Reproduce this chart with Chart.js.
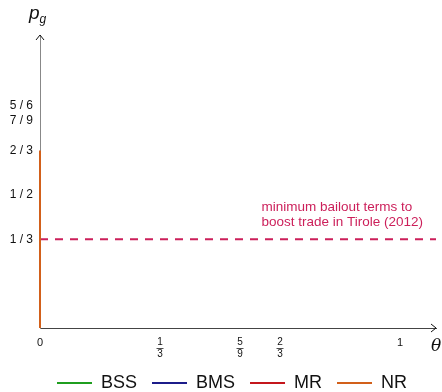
<!DOCTYPE html>
<html><head><meta charset="utf-8">
<script src="https://cdn.jsdelivr.net/npm/chart.js@4/dist/chart.umd.min.js"></script>
<style>html,body{margin:0;padding:0;background:#fff}#wrap{width:442px;height:392px}</style>
</head><body><div id="wrap"><canvas id="c"></canvas></div>
<script>
// ---- data ----
const seriesNames = ['BSS', 'BMS', 'MR', 'NR'];
const seriesColors = ['#1f9e1f', '#1c1c8a', '#c4161c', '#d2601a'];
const bssX = [], bssY = [];
const bmsX = [], bmsY = [];
const mrX = [], mrY = [];
const nrX = [0, 0], nrY = [0, 2/3];
const thresholdX = [0, 1.1], thresholdY = [1/3, 1/3];
const thresholdColor = '#cc1f5a';
const xTickValues = [0, 1/3, 5/9, 2/3, 1];
const xTickLabels = ['0', ['1', '3'], ['5', '9'], ['2', '3'], '1'];
const yTickValues = [1/3, 1/2, 2/3, 7/9, 5/6];
const yTickLabels = ['1 / 3', '1 / 2', '2 / 3', '7 / 9', '5 / 6'];
const annotationLines = ['minimum bailout terms to', 'boost trade in Tirole (2012)'];
const annotationX = 0.615;

const zip = (xs, ys) => xs.map((x, i) => ({x, y: ys[i]}));
const seriesData = [zip(bssX, bssY), zip(bmsX, bmsY), zip(mrX, mrY), zip(nrX, nrY)];

const FONT = "'Liberation Sans', Arial, Helvetica, sans-serif";
Chart.defaults.font.family = FONT;

function idxOf(arr, v) {
  let best = 0, bd = Infinity;
  arr.forEach((a, i) => { const d = Math.abs(a - v); if (d < bd) { bd = d; best = i; } });
  return best;
}

const legendShift = {
  id: 'legendShift',
  afterLayout(chart) {
    const lg = chart.legend;
    if (lg) { lg.left += 14; lg.right += 14; }
  }
};

const decorPlugin = {
  id: 'decor',
  afterDraw(chart) {
    const ctx = chart.ctx;
    const xs = chart.scales.x, ys = chart.scales.y;
    const L = chart.chartArea.left, T = chart.chartArea.top, R = chart.chartArea.right, B = chart.chartArea.bottom;
    ctx.save();
    // arrows
    ctx.strokeStyle = '#111'; ctx.lineWidth = 1;
    ctx.beginPath();
    ctx.moveTo(L - 4, T + 5); ctx.lineTo(L, T); ctx.lineTo(L + 4, T + 5);
    ctx.moveTo(R - 5, B - 4); ctx.lineTo(R, B); ctx.lineTo(R - 5, B + 4);
    ctx.stroke();
    // fraction bars
    const items = xs.getLabelItems();
    ctx.strokeStyle = '#222'; ctx.lineWidth = 0.8;
    items.forEach((it) => {
      if (Array.isArray(it.label)) {
        const lh = it.font.lineHeight;
        const [tx, ty] = it.options.translation;
        let c0 = ty + it.textOffset;
        const bl = it.options.textBaseline;
        if (bl === 'top') c0 += it.font.size / 2;
        else if (bl === 'bottom') c0 -= it.font.size / 2;
        const yb = Math.round(c0 + lh / 2) + 0.5;
        ctx.beginPath(); ctx.moveTo(tx - 3.5, yb); ctx.lineTo(tx + 3.5, yb); ctx.stroke();
      }
    });
    // axis labels
    ctx.fillStyle = '#111';
    ctx.textBaseline = 'alphabetic'; ctx.textAlign = 'left';
    ctx.font = "italic 19px " + FONT;
    ctx.fillText('p', L - 11, T - 16);
    ctx.font = "italic 12px " + FONT;
    ctx.fillText('g', L - 0.5, T - 12);
    ctx.font = "italic 17px 'DejaVu Serif', 'Liberation Serif', serif";
    ctx.fillText('θ', R - 5, B + 23);
    // annotation
    ctx.fillStyle = thresholdColor;
    ctx.font = "13.5px " + FONT;
    const ax = xs.getPixelForValue(annotationX);
    const ay = ys.getPixelForValue(thresholdY[0]);
    ctx.fillText(annotationLines[0], ax, ay - 28);
    ctx.fillText(annotationLines[1], ax, ay - 13);
    ctx.restore();
  }
};

const datasets = seriesNames.map((n, i) => ({
  label: n, data: seriesData[i], showLine: true, borderColor: seriesColors[i], backgroundColor: seriesColors[i],
  borderWidth: 2, pointRadius: 0, tension: 0, clip: false
}));
datasets.push({
  label: 'threshold', data: zip(thresholdX, thresholdY), showLine: true, borderColor: thresholdColor,
  borderWidth: 2, borderDash: [8, 7], pointRadius: 0, tension: 0, clip: false
});

new Chart(document.getElementById('c'), {
  type: 'scatter',
  data: { datasets },
  options: {
    responsive: true, maintainAspectRatio: false, animation: false,
    layout: { padding: { left: 0, right: 6, top: 35, bottom: -10 } },
    plugins: {
      tooltip: { enabled: false },
      legend: {
        position: 'bottom',
        labels: {
          boxWidth: 35, boxHeight: 2, padding: 15, color: '#111',
          font: { size: 18, family: FONT },
          generateLabels: (chart) => seriesNames.map((n, i) => ({
            text: n, fillStyle: seriesColors[i], strokeStyle: seriesColors[i], lineWidth: 0,
            fontColor: '#111', datasetIndex: i, hidden: false
          }))
        }
      }
    },
    scales: {
      x: {
        type: 'linear', min: 0, max: 1.1,
        grid: { display: false, drawTicks: false },
        border: { display: true, color: '#444', width: 1 },
        afterBuildTicks: (s) => { s.ticks = xTickValues.map(v => ({value: v})); },
        afterFit: (s) => { s.height = 31; },
        ticks: {
          autoSkip: false, maxRotation: 0, padding: 8.5, color: '#111', crossAlign: 'near',
          font: (ctx) => {
            const i = ctx.index;
            return Array.isArray(xTickLabels[i]) ? { size: 10, lineHeight: 1.15, family: FONT } : { size: 11, family: FONT };
          },
          callback: (v) => xTickLabels[idxOf(xTickValues, v)]
        }
      },
      y: {
        type: 'linear', min: 0, max: 1.1,
        grid: { display: false, drawTicks: false },
        border: { display: true, color: '#888', width: 1 },
        afterBuildTicks: (s) => { s.ticks = yTickValues.map(v => ({value: v})); },
        afterFit: (s) => { s.width = 40; },
        ticks: {
          autoSkip: false, padding: 7, color: '#111', font: { size: 12, family: FONT },
          callback: (v) => yTickLabels[idxOf(yTickValues, v)]
        }
      }
    }
  },
  plugins: [legendShift, decorPlugin]
});
</script>
</body></html>
